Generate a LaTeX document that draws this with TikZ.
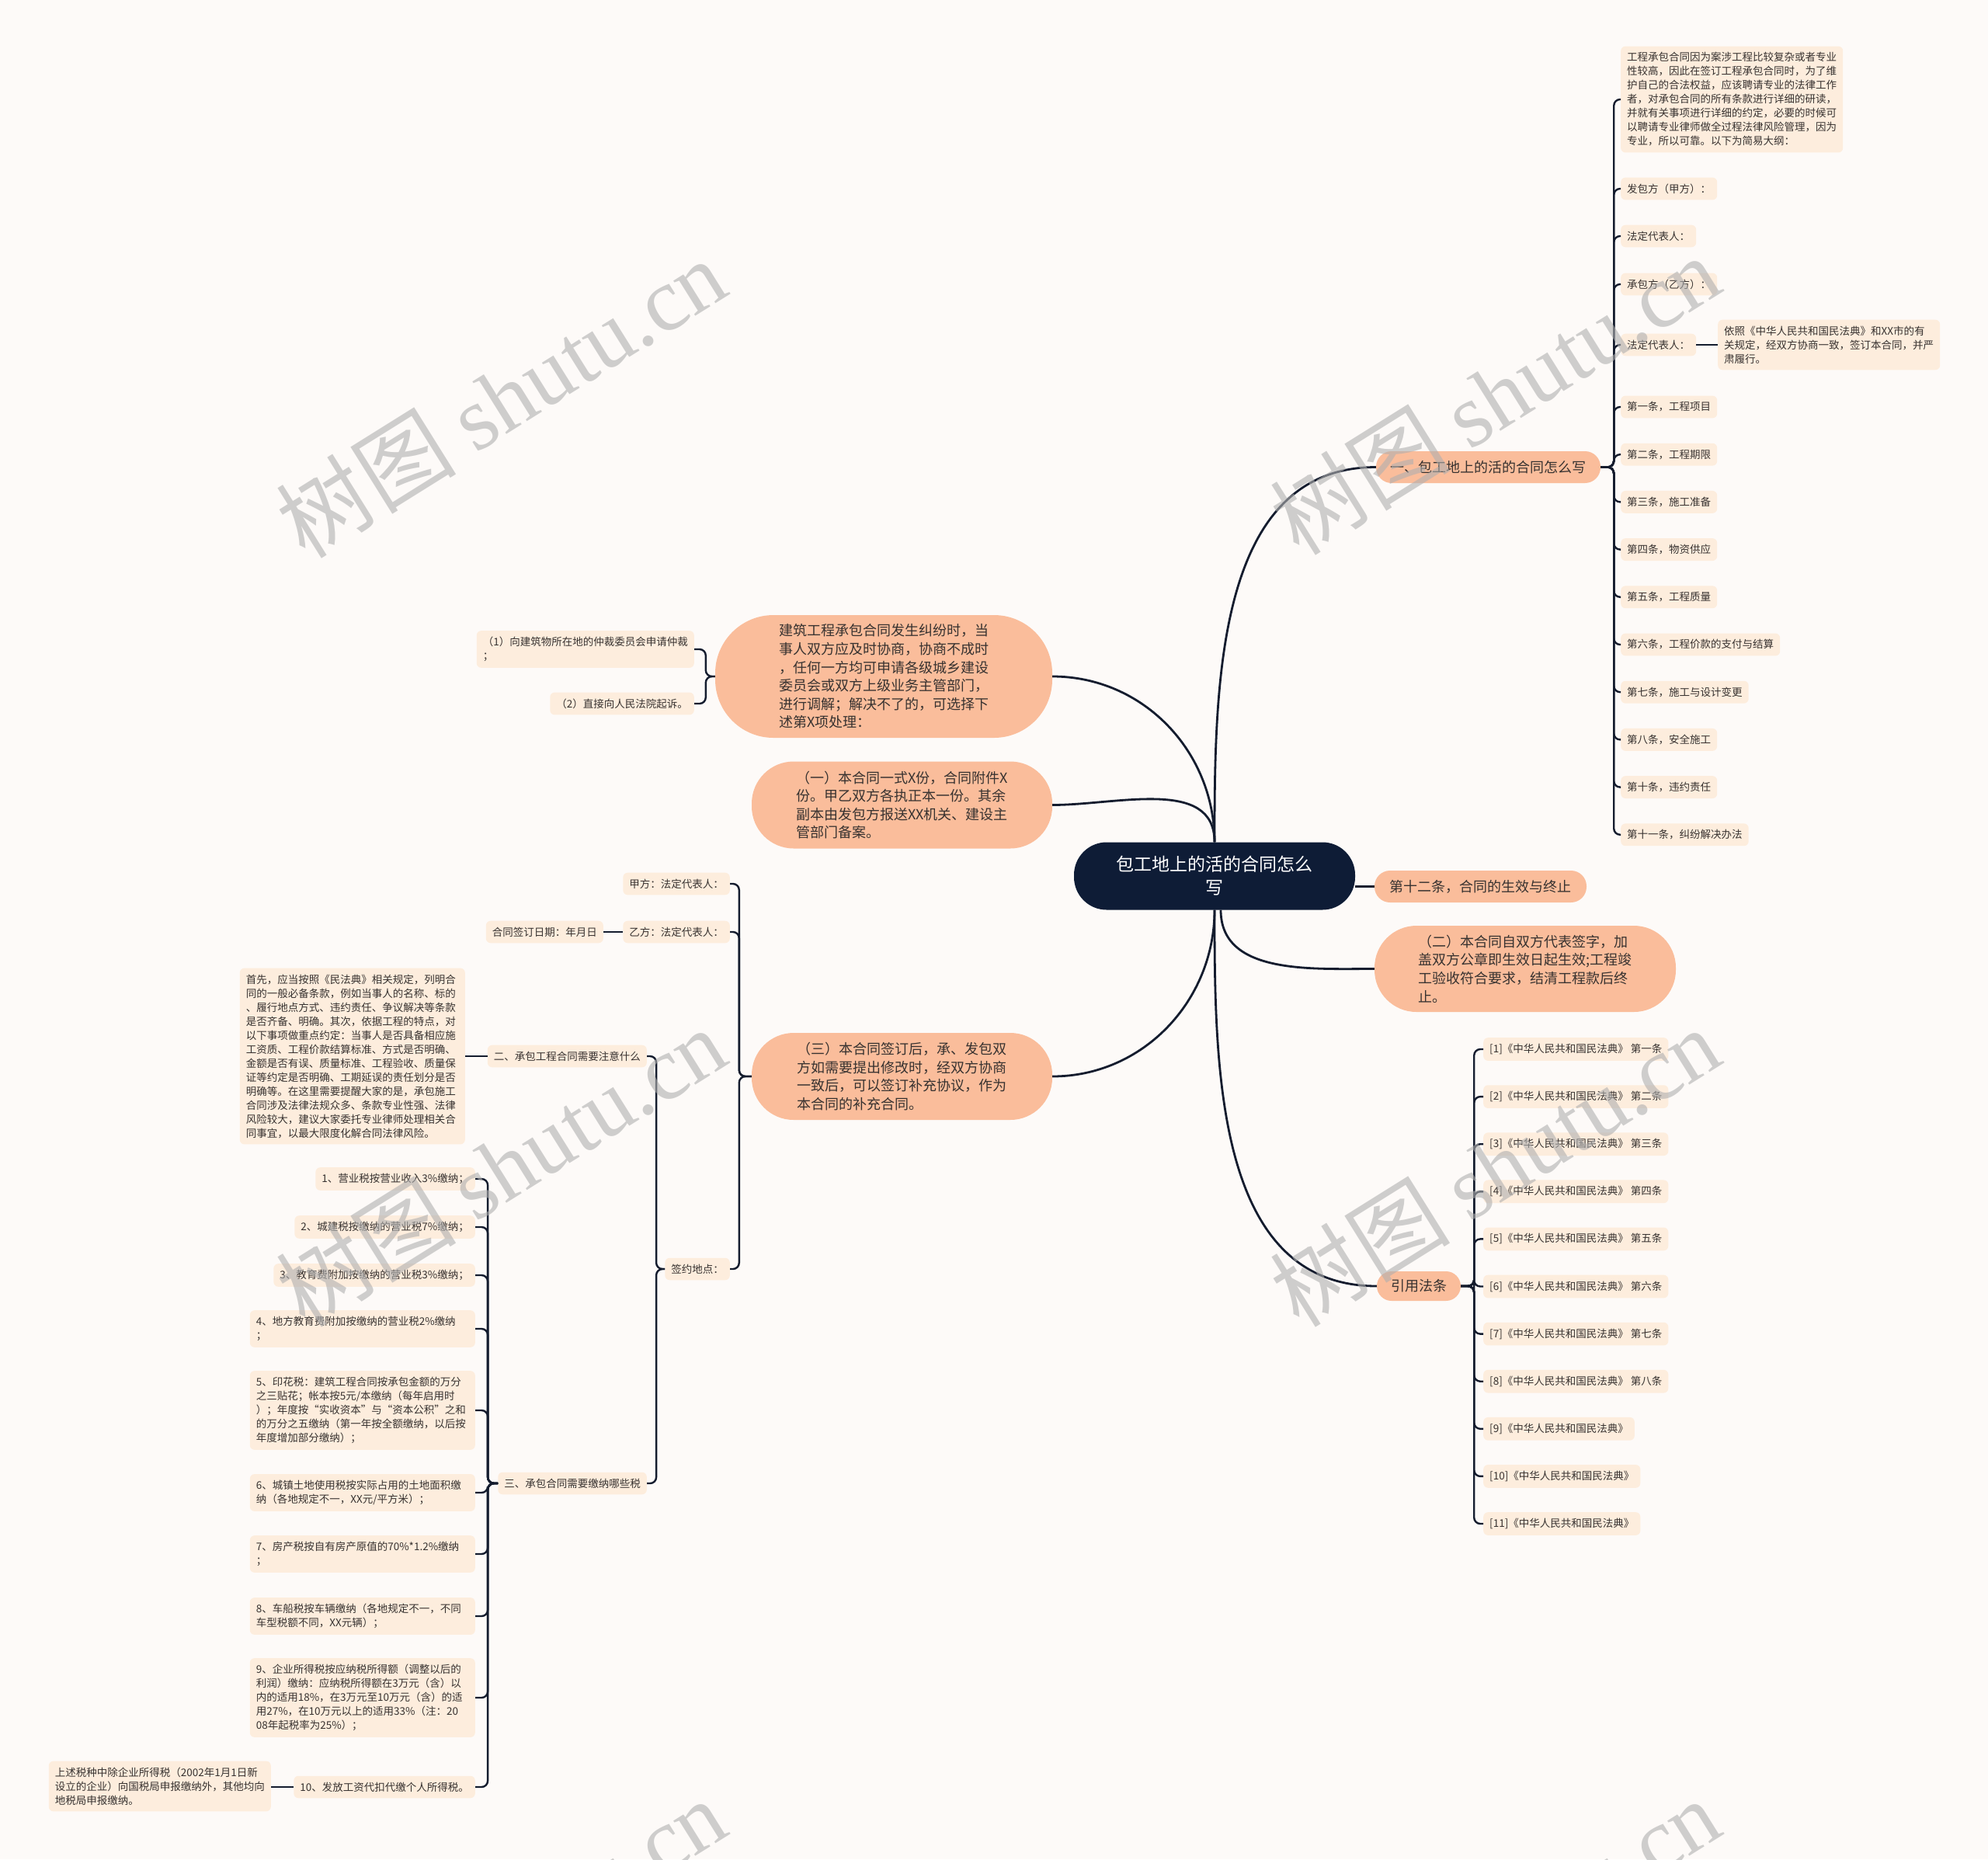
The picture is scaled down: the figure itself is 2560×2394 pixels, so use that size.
\documentclass[tikz,border=0pt]{standalone}
\usepackage{fontspec}
\setmainfont{Noto Sans CJK SC}
\newfontfamily\wmserif{Liberation Serif}
\usetikzlibrary{positioning}

\definecolor{bgpaper}{RGB}{253,250,248}
\definecolor{rootblue}{RGB}{14,28,54}
\definecolor{salmon}{RGB}{250,189,155}
\definecolor{peach}{RGB}{253,237,221}
\definecolor{linkc}{RGB}{20,28,46}
\definecolor{inkc}{RGB}{55,50,48}
\definecolor{wmgray}{RGB}{175,175,175}

\tikzset{
  root/.style={fill=rootblue, text=white, rounded corners=42, align=center,
    minimum width=362, minimum height=87, inner sep=0,
    font=\fontsize{23}{30}\selectfont},
  topic/.style={fill=salmon, text=inkc, align=left, inner sep=0,
    font=\fontsize{18}{23.6}\selectfont},
  leaf/.style={fill=peach, text=inkc, align=left, rounded corners=6,
    inner xsep=8, inner ysep=8, minimum height=28,
    font=\fontsize{13.5}{18}\selectfont},
  link/.style={draw=linkc, line width=2.4, rounded corners=8},
  curvy/.style={draw=linkc, line width=2.8},
  wmark/.style={text=wmgray, rotate=32, opacity=0.6,
    font=\fontsize{116}{116}\selectfont},
}

\begin{document}
\begin{tikzpicture}[x=1pt, y=-1pt]
  \fill[bgpaper] (0,0) rectangle (2560,2394);
  \useasboundingbox (0,0) rectangle (2560,2394);

  % === CENTRE ===
  \node[root] (root) at (1564,1128) {包工地上的活的合同怎么\\写};

  % === RIGHT TOPICS ===
  \node[topic, minimum width=289, minimum height=41, rounded corners=20] (t1) at (1916.5,601.5) {一、包工地上的活的合同怎么写};
  \node[topic, minimum width=273, minimum height=41, rounded corners=20] (t12) at (1906.5,1141.5) {第十二条，合同的生效与终止};
  \node[topic, minimum width=388, minimum height=111, rounded corners=54] (t2) at (1964,1247.5) {（二）本合同自双方代表签字，加\\盖双方公章即生效日起生效;工程竣\\工验收符合要求，结清工程款后终\\止。};
  \node[topic, minimum width=108, minimum height=38, rounded corners=19] (cite) at (1827,1656) {引用法条};

  % === LEFT TOPICS ===
  \node[topic, minimum width=434, minimum height=158, rounded corners=75] (l1) at (1138,871) {建筑工程承包合同发生纠纷时，当\\事人双方应及时协商，协商不成时\\，任何一方均可申请各级城乡建设\\委员会或双方上级业务主管部门，\\进行调解；解决不了的，可选择下\\述第X项处理：};
  \node[topic, minimum width=387, minimum height=112, rounded corners=54] (l2) at (1161.5,1036.5) {（一）本合同一式X份，合同附件X\\份。甲乙双方各执正本一份。其余\\副本由发包方报送XX机关、建设主\\管部门备案。};
  \node[topic, minimum width=387, minimum height=112, rounded corners=54] (l3) at (1161.5,1386) {（三）本合同签订后，承、发包双\\方如需要提出修改时，经双方协商\\一致后，可以签订补充协议，作为\\本合同的补充合同。};

  % centre links
  \draw[curvy] (root.north) to[out=90, in=180] (t1.west);
  \draw[curvy] (root.east |- t12.west) -- (t12.west);
  \draw[curvy] ([xshift=8]root.south) to[out=-90, in=180] (t2.west);
  \draw[curvy] (root.south) to[out=-90, in=180] (cite.west);
  \draw[curvy] (root.north) to[out=90, in=0] (l1.east);
  \draw[curvy] (root.north) to[out=90, in=0] (l2.east);
  \draw[curvy] (root.south) to[out=-90, in=0] (l3.east);

  % === RIGHT: outline of the contract ===
  \node[leaf, anchor=west] (intro) at (2087,128) {工程承包合同因为案涉工程比较复杂或者专业\\性较高，因此在签订工程承包合同时，为了维\\护自己的合法权益，应该聘请专业的法律工作\\者，对承包合同的所有条款进行详细的研读，\\并就有关事项进行详细的约定，必要的时候可\\以聘请专业律师做全过程法律风险管理，因为\\专业，所以可靠。以下为简易大纲：};
  \node[leaf, anchor=west] (fbf) at (2087,243) {发包方（甲方）：};
  \node[leaf, anchor=west] (fdr1) at (2087,304) {法定代表人：};
  \node[leaf, anchor=west] (cbf) at (2087,366) {承包方（乙方）：};
  \node[leaf, anchor=west] (fdr2) at (2087,444) {法定代表人：};
  \node[leaf, anchor=west] (yizhao) at (2212,444) {依照《中华人民共和国民法典》和XX市的有\\关规定，经双方协商一致，签订本合同，并严\\肃履行。};
  \foreach \txt [count=\i] in {第一条，工程项目, 第二条，工程期限, 第三条，施工准备,
      第四条，物资供应, 第五条，工程质量, 第六条，工程价款的支付与结算,
      第七条，施工与设计变更, 第八条，安全施工, 第十条，违约责任,
      第十一条，纠纷解决办法}
    \node[leaf, anchor=west] (art\i) at (2087,{524+61.2*(\i-1)}) {\txt};

  \foreach \n in {intro,fbf,fdr1,cbf,fdr2}
    \draw[link] (t1.east) -- ++(17,0) |- (\n.west);
  \foreach \i in {1,...,10}
    \draw[link] (t1.east) -- ++(17,0) |- (art\i.west);
  \draw[link] (fdr2.east) -- (yizhao.west);

  % === RIGHT: cited articles ===
  \foreach \txt [count=\i] in {{[1]《中华人民共和国民法典》 第一条}, {[2]《中华人民共和国民法典》 第二条},
      {[3]《中华人民共和国民法典》 第三条}, {[4]《中华人民共和国民法典》 第四条},
      {[5]《中华人民共和国民法典》 第五条}, {[6]《中华人民共和国民法典》 第六条},
      {[7]《中华人民共和国民法典》 第七条}, {[8]《中华人民共和国民法典》 第八条},
      {[9]《中华人民共和国民法典》}, {[10]《中华人民共和国民法典》},
      {[11]《中华人民共和国民法典》}}
    \node[leaf, anchor=west] (ref\i) at (1910,{1351+61.1*(\i-1)}) {\txt};
  \foreach \i in {1,...,11}
    \draw[link] (cite.east) -- ++(17,0) |- (ref\i.west);

  % === LEFT: disputes ===
  \node[leaf, anchor=east] (zhongcai) at (894,836) {（1）向建筑物所在地的仲裁委员会申请仲裁\\；};
  \node[leaf, anchor=east] (qisu) at (894,906) {（2）直接向人民法院起诉。};
  \foreach \n in {zhongcai,qisu}
    \draw[link] (l1.west) -- ++(-12,0) |- (\n.east);

  % === LEFT: signing ===
  \node[leaf, anchor=east] (jiafang) at (940,1138) {甲方：法定代表人：};
  \node[leaf, anchor=east] (yifang) at (940,1200) {乙方：法定代表人：};
  \node[leaf, anchor=east] (qdate) at (777,1200) {合同签订日期：年月日};
  \node[leaf, anchor=east] (place) at (940,1634) {签约地点：};
  \foreach \n in {jiafang,yifang,place}
    \draw[link] (l3.west) -- ++(-16,0) |- (\n.east);
  \draw[link] (yifang.west) -- (qdate.east);

  \node[leaf, anchor=east] (attn) at (833,1360) {二、承包工程合同需要注意什么};
  \node[leaf, anchor=east] (tax) at (833,1910) {三、承包合同需要缴纳哪些税};
  \foreach \n in {attn,tax}
    \draw[link] (place.west) -- ++(-11,0) |- (\n.east);

  \node[leaf, anchor=east, text width=274] (attnx) at (599,1360) {首先，应当按照《民法典》相关规定，列明合\\同的一般必备条款，例如当事人的名称、标的\\、履行地点方式、违约责任、争议解决等条款\\是否齐备、明确。其次，依据工程的特点，对\\以下事项做重点约定：当事人是否具备相应施\\工资质、工程价款结算标准、方式是否明确、\\金额是否有误、质量标准、工程验收、质量保\\证等约定是否明确、工期延误的责任划分是否\\明确等。在这里需要提醒大家的是，承包施工\\合同涉及法律法规众多、条款专业性强、法律\\风险较大，建议大家委托专业律师处理相关合\\同事宜，以最大限度化解合同法律风险。};
  \draw[link] (attn.west) -- (attnx.east);

  % === LEFT: taxes ===
  \node[leaf, anchor=east] (tx1) at (612,1518) {1、营业税按营业收入3\%缴纳；};
  \node[leaf, anchor=east] (tx2) at (612,1580) {2、城建税按缴纳的营业税7\%缴纳；};
  \node[leaf, anchor=east] (tx3) at (612,1642) {3、教育费附加按缴纳的营业税3\%缴纳；};
  \node[leaf, anchor=east, text width=274] (tx4) at (612,1711) {4、地方教育费附加按缴纳的营业税2\%缴纳\\；};
  \node[leaf, anchor=east, text width=274] (tx5) at (612,1816) {5、印花税：建筑工程合同按承包金额的万分\\之三贴花；帐本按5元/本缴纳（每年启用时\\）；年度按“实收资本”与“资本公积”之和\\的万分之五缴纳（第一年按全额缴纳，以后按\\年度增加部分缴纳）；};
  \node[leaf, anchor=east, text width=274] (tx6) at (612,1922) {6、城镇土地使用税按实际占用的土地面积缴\\纳（各地规定不一，XX元/平方米）；};
  \node[leaf, anchor=east, text width=274] (tx7) at (612,2001) {7、房产税按自有房产原值的70\%*1.2\%缴纳\\；};
  \node[leaf, anchor=east, text width=274] (tx8) at (612,2081) {8、车船税按车辆缴纳（各地规定不一，不同\\车型税额不同，XX元辆）；};
  \node[leaf, anchor=east, text width=274] (tx9) at (612,2186) {9、企业所得税按应纳税所得额（调整以后的\\利润）缴纳：应纳税所得额在3万元（含）以\\内的适用18\%，在3万元至10万元（含）的适\\用27\%，在10万元以上的适用33\%（注：20\\08年起税率为25\%）；};
  \node[leaf, anchor=east] (tx10) at (612,2301) {10、发放工资代扣代缴个人所得税。};
  \foreach \i in {1,...,10}
    \draw[link] (tax.west) -- ++(-13,0) |- (tx\i.east);

  \node[leaf, anchor=east] (tx10x) at (349,2300) {上述税种中除企业所得税（2002年1月1日新\\设立的企业）向国税局申报缴纳外，其他均向\\地税局申报缴纳。};
  \draw[link] (tx10.west) -- (tx10.west -| tx10x.east);

  % === WATERMARKS ===
  \foreach \wx/\wy in {645/512, 1925/508, 645/1502, 1925/1502, 645/2495, 1925/2495}
    \node[wmark] (wm-\wx-\wy) at (\wx,\wy) {树图 {\wmserif shutu.cn}};
\end{tikzpicture}
\end{document}
